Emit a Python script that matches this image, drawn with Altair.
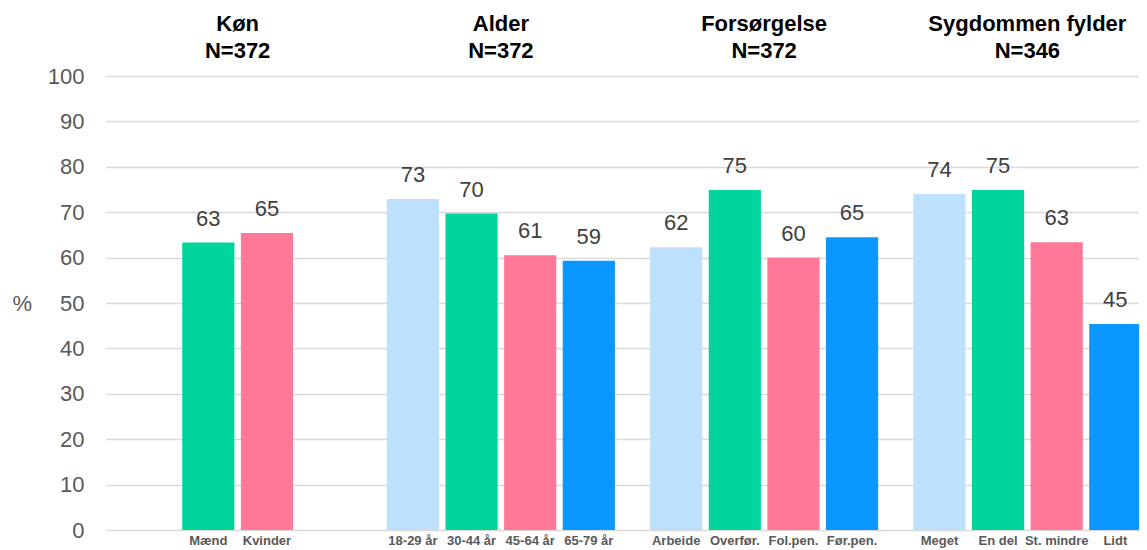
import altair as alt
import pandas as pd

groups = ["Køn", "Alder", "Forsørgelse", "Sygdommen fylder"]
group_n = [372, 372, 372, 346]

kon_labels = ["Mænd", "Kvinder"]
kon_slots = [1, 2]
kon_values = [63.3, 65.4]

alder_labels = ["18-29 år", "30-44 år", "45-64 år", "65-79 år"]
alder_slots = [0, 1, 2, 3]
alder_values = [72.9, 69.7, 60.5, 59.3]

fors_labels = ["Arbeide", "Overfør.", "Fol.pen.", "Før.pen."]
fors_slots = [0, 1, 2, 3]
fors_values = [62.3, 74.9, 60.0, 64.5]

syg_labels = ["Meget", "En del", "St. mindre", "Lidt"]
syg_slots = [0, 1, 2, 3]
syg_values = [74.0, 74.9, 63.4, 45.4]

slot_colors = ["#BDE0FC", "#00D69B", "#FF7897", "#0A97FF"]

rows = []
for g, labs, slots, vals in zip(
    groups,
    [kon_labels, alder_labels, fors_labels, syg_labels],
    [kon_slots, alder_slots, fors_slots, syg_slots],
    [kon_values, alder_values, fors_values, syg_values],
):
    for lab, s, v in zip(labs, slots, vals):
        rows.append({"group": g, "label": lab, "slot": s, "value": v})
df = pd.DataFrame(rows)
heads = pd.DataFrame({"group": groups, "n": [f"N={n}" for n in group_n]})

FONT = "Liberation Sans"

x = alt.X("group:N",
          scale=alt.Scale(domain=groups, range=[0, 1053], paddingInner=0, paddingOuter=0),
          axis=None)
xo = alt.XOffset("slot:O",
                 scale=alt.Scale(domain=[0, 1, 2, 3], paddingInner=0.11, paddingOuter=0.3))
yscale = alt.Scale(domain=[0, 100])
yaxis = alt.Axis(values=list(range(0, 101, 10)), grid=True, gridColor="#D9D9D9",
                 gridWidth=1.5, domain=False, ticks=False, labelFontSize=22,
                 labelColor="#595959", labelFont=FONT, labelPadding=22,
                 title="%", titleAngle=0, titleFontSize=22, titleFontWeight="normal",
                 titleColor="#595959", titleFont=FONT, titleX=-94, titleY=227,
                 titleAlign="left", titleBaseline="middle")

bars = alt.Chart(df).mark_bar().encode(
    x=x, xOffset=xo, y=alt.Y("value:Q", scale=yscale, axis=yaxis),
    color=alt.Color("slot:O", scale=alt.Scale(domain=[0, 1, 2, 3], range=slot_colors), legend=None),
)

values = alt.Chart(df).mark_text(dy=-17, baseline="alphabetic", fontSize=22, color="#404040",
                                 font=FONT).encode(
    x=x, xOffset=xo, y=alt.Y("value:Q", scale=yscale, axis=yaxis),
    text=alt.Text("value:Q", format=".0f"),
)

cat_labels = alt.Chart(df).mark_text(dy=15, baseline="alphabetic", fontSize=13, fontWeight="bold",
                                     color="#595959", font=FONT).encode(
    x=x, xOffset=xo, y=alt.Y(datum=0, scale=yscale, axis=yaxis),
    text="label:N",
)

head1 = alt.Chart(heads).mark_text(dy=-45, baseline="alphabetic", fontSize=22, fontWeight="bold",
                                   color="#000000", font=FONT).encode(
    x=x, y=alt.Y(datum=100, scale=yscale, axis=yaxis), text="group:N",
)
head2 = alt.Chart(heads).mark_text(dy=-18, baseline="alphabetic", fontSize=22, fontWeight="bold",
                                   color="#000000", font=FONT).encode(
    x=x, y=alt.Y(datum=100, scale=yscale, axis=yaxis), text="n:N",
)

chart = alt.layer(bars, values, cat_labels, head1, head2).properties(
    width=1033, height=454,
    padding={"left": 98, "top": 68, "right": 0, "bottom": 20},
    autosize=alt.AutoSizeParams(type="none"),
).configure_view(stroke=None)

chart.save("out.html", embed_options={"renderer": "svg", "actions": False})
